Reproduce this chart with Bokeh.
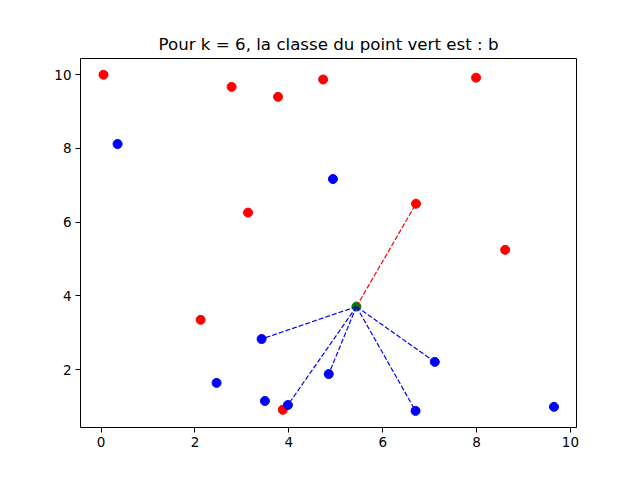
import numpy as np
from bokeh.plotting import figure
from bokeh.models import Range1d, FixedTicker
from bokeh.embed import file_html
from bokeh.resources import INLINE

# Class "a" (red) and class "b" (blue) points
red_x = [0.05, 2.78, 3.77, 4.73, 7.99, 3.13, 6.71, 8.61, 2.12, 3.87]
red_y = [10.00, 9.67, 9.40, 9.87, 9.92, 6.26, 6.50, 5.25, 3.35, 0.91]
blue_x = [0.35, 4.94, 3.42, 2.46, 3.49, 3.98, 4.85, 7.11, 6.70, 9.65]
blue_y = [8.12, 7.17, 2.83, 1.64, 1.15, 1.04, 1.88, 2.21, 0.88, 0.99]
# Point to classify (green)
green_x = 5.44
green_y = 3.71
k = 6
x_ticks = [0, 2, 4, 6, 8, 10]
y_ticks = [2, 4, 6, 8, 10]

FONT = "DejaVu Sans"

p = figure(width=640, height=480, output_backend="svg", toolbar_location=None,
           x_range=Range1d(-0.44, 10.13), y_range=Range1d(0.43, 10.44),
           min_border_left=80, min_border_right=64, min_border_top=58,
           min_border_bottom=53)
p.title.text = f"Pour k = {k}, la classe du point vert est : b"
p.title.align = "center"
p.title.text_font = FONT
p.title.text_font_size = "16.67px"
p.title.text_font_style = "normal"
p.title.text_color = "black"

p.grid.visible = False
p.outline_line_color = "black"
p.outline_line_width = 1
p.outline_line_alpha = 1

for ax in (p.xaxis, p.yaxis):
    ax.axis_line_color = None
    ax.major_tick_in = 0
    ax.major_tick_out = 5
    ax.minor_tick_line_color = None
    ax.major_tick_line_color = "black"
    ax.major_label_text_font = FONT
    ax.major_label_text_font_size = "13.5px"
    ax.major_label_text_color = "black"
    ax.major_label_standoff = 4
p.xaxis.ticker = FixedTicker(ticks=x_ticks)
p.yaxis.ticker = FixedTicker(ticks=y_ticks)

p.scatter(red_x, red_y, size=9, color="#ff0000")
p.scatter(blue_x, blue_y, size=9, color="#0000ff")
p.scatter([green_x], [green_y], size=9, color="#008000")

# k nearest neighbours
pts = [(x, y, "#ff0000") for x, y in zip(red_x, red_y)] + \
      [(x, y, "#0000ff") for x, y in zip(blue_x, blue_y)]
d = [np.hypot(x - green_x, y - green_y) for x, y, _ in pts]
order = np.argsort(d)[:k]
for i in order:
    x, y, c = pts[i]
    p.line([green_x, x], [green_y, y], line_color=c, line_width=1.2, line_dash="5 2")

open("out.html", "w").write(file_html(p, INLINE))
